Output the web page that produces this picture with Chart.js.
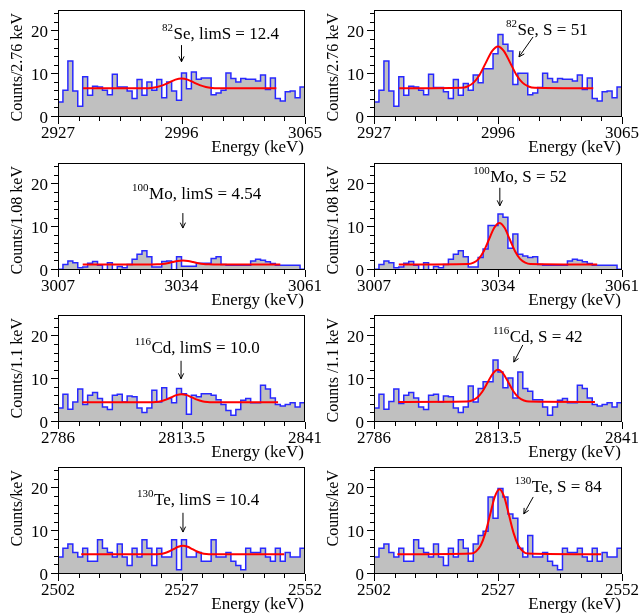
<!DOCTYPE html>
<html>
<head>
<meta charset="utf-8">
<script src="https://cdn.jsdelivr.net/npm/chart.js@4.4.1/dist/chart.umd.min.js"></script>
<style>
  body { margin: 0; background: #fff; }
  #wrap { position: relative; width: 639px; height: 615px; overflow: hidden; }
  canvas { position: absolute; }
</style>
</head>
<body>
<div id="wrap"></div>
<script>
// energy windows (keV) and bin widths
const seRange = [2927, 3065], seBin = 2.76;
const moRange = [3007, 3061], moBin = 1.08;
const cdRange = [2786, 2841], cdBin = 1.1;
const teRange = [2502, 2552], teBin = 1;

// x tick labels
const seTickLabels = ['2927', '2996', '3065'];
const moTickLabels = ['3007', '3034', '3061'];
const cdTickLabels = ['2786', '2813.5', '2841'];
const teTickLabels = ['2502', '2527', '2552'];
const yTickLabels = [0, 10, 20];

// counts per bin, left = limit fit, right = with signal
const seLimCounts = [3.5, 6.25, 13.1, 6.1, 2.5, 9.4, 5.1, 7.2, 7.0, 6.25,
  5.2, 10.0, 7.0, 7.0, 6.1, 4.3, 8.75, 5.1, 8.2, 6.25,
  8.75, 4.5, 8.2, 6.1, 3.9, 10.3, 6.6, 10.5, 8.8, 9.1,
  9.1, 5.2, 5.6, 6.25, 10.3, 9.0, 8.2, 9.0, 8.8, 8.8,
  8.4, 9.8, 6.4, 9.1, 4.3, 3.75, 5.9, 6.1, 4.5, 7.0];
const seSigCounts = [3.5, 6.25, 13.1, 6.1, 2.5, 9.4, 5.1, 7.2, 7.0, 6.25,
  5.2, 10.0, 6.9, 6.9, 5.9, 4.3, 8.75, 5.1, 7.8, 6.25,
  9.8, 8.0, 11.3, 11.3, 14.8, 19.3, 17.0, 15.4, 7.6, 10.2,
  10.2, 5.2, 5.6, 6.9, 10.2, 9.0, 8.2, 9.0, 8.8, 8.8,
  8.4, 9.8, 6.4, 9.1, 4.3, 3.75, 5.9, 6.1, 4.5, 7.0];
const moLimCounts = [0.15, 1.3, 2.1, 1.7, 0.55, 0.7, 1.6, 2.0, 1.1, 0,
  1.7, 0, 0.8, 0.55, 1.3, 2.5, 3.7, 4.5, 3.1, 0.7,
  0.7, 2.0, 2.1, 0, 3.1, 0.9, 0.9, 0.9, 1.6, 1.6,
  1.6, 2.7, 3.1, 1.3, 1.1, 1.1, 1.1, 1.1, 1.1, 2.1,
  2.5, 2.3, 1.9, 1.5, 1.1, 1.1, 1.1, 1.1, 1.1, 0.15];
const moSigCounts = [0.15, 1.3, 2.1, 1.7, 0.55, 0.7, 1.6, 2.0, 1.1, 0,
  1.7, 0, 0.8, 0.55, 1.3, 2.5, 3.7, 4.5, 3.1, 0.7,
  0.7, 2.9, 4.9, 10.4, 10.4, 13.1, 12.3, 5.1, 8.4, 3.7,
  3.3, 2.9, 3.1, 1.3, 1.1, 1.1, 1.1, 1.1, 1.1, 2.1,
  2.5, 2.3, 1.9, 1.5, 1.1, 1.1, 1.1, 1.1, 1.1, 0.15];
const cdLimCounts = [3.3, 6.5, 3.0, 4.7, 7.7, 4.1, 6.25, 6.9, 5.5, 3.5,
  2.9, 6.25, 6.5, 4.7, 6.1, 5.9, 3.3, 2.2, 3.3, 7.4,
  4.7, 8.0, 5.5, 4.5, 7.8, 6.6, 1.8, 6.25, 5.9, 6.6,
  6.6, 6.25, 5.2, 4.1, 2.7, 1.6, 2.9, 5.1, 5.5, 4.5,
  4.5, 8.6, 7.7, 5.6, 4.1, 3.75, 4.1, 4.5, 3.5, 4.5];
const cdSigCounts = [3.3, 6.5, 3.0, 4.8, 7.7, 4.3, 6.25, 6.9, 5.6, 3.5,
  2.9, 6.25, 6.5, 4.7, 6.1, 5.9, 3.3, 2.2, 3.5, 8.4,
  4.7, 7.8, 9.4, 9.4, 14.5, 11.7, 8.0, 10.3, 5.6, 11.7,
  7.8, 7.2, 5.2, 5.2, 3.5, 1.6, 3.5, 5.1, 5.5, 4.5,
  4.5, 8.6, 7.8, 5.6, 4.1, 3.75, 4.1, 4.5, 3.5, 4.5];
const teLimCounts = [4, 6, 7, 5, 4, 6, 3, 3, 8, 6,
  5, 4, 7, 4, 2, 6, 4, 8, 6, 2,
  6, 4, 4, 8, 1, 8, 4, 4, 5, 3,
  3, 8, 4, 4, 5, 3, 2, 1, 6, 5,
  5, 6, 4, 3, 6, 3, 5, 4, 4, 6];
const teSigCounts = [4, 6, 7, 5, 4, 6, 3, 3, 8, 6,
  5, 4, 7, 4, 2, 6, 4, 8, 6, 3,
  7, 9, 10, 18, 13, 20, 18, 14, 13, 6,
  4, 9, 4, 4, 5, 3, 2, 1, 6, 5,
  5, 6, 4, 3, 6, 3, 5, 4, 4, 6];

// fitted curves
const seFitE = [2941, 2975.6, 2979.0, 2982.4, 2985.8, 2989.2, 2992.6, 2996.0, 2999.4, 3002.8, 3006.2, 3009.6, 3013.0, 3016.4, 3049];
const seLimFitY = [6.7, 6.73, 6.80, 7.01, 7.45, 8.09, 8.73, 9.0, 8.73, 8.09, 7.45, 7.01, 6.80, 6.73, 6.7];
const seSigFitY = [6.7, 6.81, 7.13, 8.03, 9.88, 12.64, 15.35, 16.5, 15.35, 12.64, 9.88, 8.03, 7.13, 6.81, 6.7];
const moFitE = [3012.4, 3027.55, 3028.68, 3029.8, 3030.93, 3032.05, 3033.18, 3034.3, 3035.43, 3036.55, 3037.68, 3038.8, 3039.93, 3041.05, 3055.6];
const moLimFitY = [1.3, 1.31, 1.34, 1.42, 1.59, 1.85, 2.09, 2.2, 2.09, 1.85, 1.59, 1.42, 1.34, 1.31, 1.3];
const moSigFitY = [1.3, 1.41, 1.73, 2.61, 4.45, 7.18, 9.86, 11.0, 9.86, 7.18, 4.45, 2.61, 1.73, 1.41, 1.3];
const cdFitE = [2791.4, 2806.6, 2807.75, 2808.9, 2810.05, 2811.2, 2812.35, 2813.5, 2814.65, 2815.8, 2816.95, 2818.1, 2819.25, 2820.4, 2835.0];
const cdLimFitY = [4.6, 4.62, 4.68, 4.86, 5.22, 5.75, 6.28, 6.5, 6.28, 5.75, 5.22, 4.86, 4.68, 4.62, 4.6];
const cdSigFitY = [4.7, 4.78, 5.03, 5.71, 7.14, 9.25, 11.32, 12.2, 11.32, 9.25, 7.14, 5.71, 5.03, 4.78, 4.7];
const teFitE = [2506.7, 2521.6, 2522.55, 2523.5, 2524.45, 2525.4, 2526.35, 2527.3, 2528.25, 2529.2, 2530.15, 2531.1, 2532.05, 2533.0, 2547.8];
const teLimFitY = [4.6, 4.62, 4.69, 4.87, 5.25, 5.81, 6.37, 6.6, 6.37, 5.81, 5.25, 4.87, 4.69, 4.62, 4.6];
const teSigFitY = [4.6, 4.77, 5.27, 6.66, 9.54, 13.82, 18.01, 19.8, 18.01, 13.82, 9.54, 6.66, 5.27, 4.77, 4.6];

// panel grid (px)
const colLeft = [0, 318], colWidth = [330, 321];
const plotLeft = [58, 374], plotRight = [305, 622];
const plotTop = [10, 163, 315, 467], plotH = 107;

const panels = [
  { row: 0, col: 0, range: seRange, bin: seBin, counts: seLimCounts, fitE: seFitE, fitY: seLimFitY, ticks: seTickLabels,
    yTitle: 'Counts/2.76 keV', sup: '82', label: 'Se, limS = 12.4', at: [2985.1, 18.2], arrow: [2996, 16.8, 2996, 12.9] },
  { row: 0, col: 1, range: seRange, bin: seBin, counts: seSigCounts, fitE: seFitE, fitY: seSigFitY, ticks: seTickLabels,
    yTitle: 'Counts/2.76 keV', sup: '82', label: 'Se, S = 51', at: [3000.5, 19.2], arrow: [3015.5, 18.7, 3007.7, 14.05] },
  { row: 1, col: 0, range: moRange, bin: moBin, counts: moLimCounts, fitE: moFitE, fitY: moLimFitY, ticks: moTickLabels,
    yTitle: 'Counts/1.08 keV', sup: '100', label: 'Mo, limS = 4.54', at: [3023.2, 16.6], arrow: [3034.3, 13.3, 3034.3, 9.8] },
  { row: 1, col: 1, range: moRange, bin: moBin, counts: moSigCounts, fitE: moFitE, fitY: moSigFitY, ticks: moTickLabels,
    yTitle: 'Counts/1.08 keV', sup: '100', label: 'Mo, S = 52', at: [3028.6, 20.6], arrow: [3034.4, 19.2, 3034.4, 15.0] },
  { row: 2, col: 0, range: cdRange, bin: cdBin, counts: cdLimCounts, fitE: cdFitE, fitY: cdLimFitY, ticks: cdTickLabels,
    yTitle: 'Counts/1.1 keV', sup: '116', label: 'Cd, limS = 10.0', at: [2803.1, 16.1], arrow: [2813.4, 14.3, 2813.4, 10.1] },
  { row: 2, col: 1, range: cdRange, bin: cdBin, counts: cdSigCounts, fitE: cdFitE, fitY: cdSigFitY, ticks: cdTickLabels,
    yTitle: 'Counts /1.1 keV', sup: '116', label: 'Cd, S = 42', at: [2812.4, 18.7], arrow: [2819.0, 18.0, 2817.0, 14.0] },
  { row: 3, col: 0, range: teRange, bin: teBin, counts: teLimCounts, fitE: teFitE, fitY: teLimFitY, ticks: teTickLabels,
    yTitle: 'Counts/keV', sup: '130', label: 'Te, limS = 10.4', at: [2518.0, 16.1], arrow: [2527.3, 14.3, 2527.3, 9.8] },
  { row: 3, col: 1, range: teRange, bin: teBin, counts: teSigCounts, fitE: teFitE, fitY: teSigFitY, ticks: teTickLabels,
    yTitle: 'Counts/keV', sup: '130', label: 'Te, S = 84', at: [2530.4, 19.2], arrow: [2534.1, 18.0, 2532.2, 14.05] }
];

const serif = '"Liberation Serif", "Times New Roman", serif';

// frame, ROOT style ticks, titles and the isotope labels
const panelDeco = {
  id: 'panelDeco',
  afterDraw(chart, args, o) {
    const { ctx, chartArea: a, scales: { x, y } } = chart;
    ctx.save();
    ctx.strokeStyle = '#000';
    ctx.fillStyle = '#000';
    ctx.lineWidth = 1;
    ctx.strokeRect(a.left + 0.5, a.top + 0.5, a.right - a.left - 1, a.bottom - a.top - 1);

    ctx.beginPath();
    const step = (o.range[1] - o.range[0]) / 12;
    for (let k = 0; k <= 12; k++) {
      const px = Math.round(x.getPixelForValue(o.range[0] + k * step)) + 0.5;
      const len = k % 6 === 0 ? 7 : 4;
      ctx.moveTo(px, a.bottom);
      ctx.lineTo(px, a.bottom + len);
    }
    for (let v = 0; v <= 24; v += 2) {
      const py = Math.round(y.getPixelForValue(v)) - 0.5;
      const len = v % 10 === 0 ? 7 : 4;
      ctx.moveTo(a.left - len, py);
      ctx.lineTo(a.left, py);
    }
    ctx.stroke();

    ctx.font = '17px ' + serif;
    ctx.textBaseline = 'alphabetic';
    ctx.textAlign = 'center';
    o.ticks.forEach(t => ctx.fillText(t, x.getPixelForValue(parseFloat(t)), a.bottom + 20.5));
    ctx.textAlign = 'right';
    yTickLabels.forEach(v => ctx.fillText(String(v), a.left - 10, y.getPixelForValue(v) + 6));
    ctx.fillText('Energy (keV)', a.right - 1, a.bottom + 35);

    ctx.save();
    ctx.font = '16px ' + serif;
    ctx.translate(a.left - 40, a.top + 3);
    ctx.rotate(-Math.PI / 2);
    ctx.textAlign = 'right';
    ctx.textBaseline = 'middle';
    ctx.fillText(o.yTitle, 0, 0);
    ctx.restore();

    const sx = x.getPixelForValue(o.at[0]), sy = y.getPixelForValue(o.at[1]);
    ctx.textAlign = 'left';
    ctx.font = '11px ' + serif;
    ctx.fillText(o.sup, sx, sy - 8);
    const w = ctx.measureText(o.sup).width;
    ctx.font = '17px ' + serif;
    ctx.fillText(o.label, sx + w + 0.5, sy);

    const x1 = x.getPixelForValue(o.arrow[0]), y1 = y.getPixelForValue(o.arrow[1]);
    const x2 = x.getPixelForValue(o.arrow[2]), y2 = y.getPixelForValue(o.arrow[3]);
    const ang = Math.atan2(y2 - y1, x2 - x1);
    ctx.beginPath();
    ctx.moveTo(x1, y1);
    ctx.lineTo(x2, y2);
    [0.45, -0.45].forEach(d => {
      ctx.moveTo(x2, y2);
      ctx.lineTo(x2 - 6 * Math.cos(ang + d), y2 - 6 * Math.sin(ang + d));
    });
    ctx.stroke();
    ctx.restore();
  }
};

const wrap = document.getElementById('wrap');

panels.forEach(p => {
  const canvas = document.createElement('canvas');
  const cw = colWidth[p.col], ch = 158;
  canvas.width = cw;
  canvas.height = ch;
  canvas.style.left = colLeft[p.col] + 'px';
  canvas.style.top = (plotTop[p.row] - 10) + 'px';
  canvas.style.width = cw + 'px';
  canvas.style.height = ch + 'px';
  wrap.appendChild(canvas);

  // step histogram: one point per left bin edge plus the closing edge
  const hist = p.counts.map((c, i) => ({ x: p.range[0] + i * p.bin, y: c }));
  hist.push({ x: p.range[1], y: p.counts[p.counts.length - 1] });
  const fit = p.fitE.map((e, i) => ({ x: e, y: p.fitY[i] }));

  new Chart(canvas, {
    type: 'line',
    data: {
      datasets: [
        {
          data: fit,
          borderColor: 'rgb(255,0,0)',
          borderWidth: 2,
          fill: false,
          cubicInterpolationMode: 'monotone',
          pointRadius: 0,
          order: 1
        },
        {
          data: hist,
          stepped: 'before',
          borderColor: 'rgb(40,40,255)',
          borderWidth: 1.5,
          backgroundColor: 'rgb(192,192,192)',
          fill: 'origin',
          pointRadius: 0,
          order: 2
        }
      ]
    },
    options: {
      responsive: false,
      animation: false,
      devicePixelRatio: 1,
      layout: {
        padding: {
          left: plotLeft[p.col] - colLeft[p.col],
          right: colLeft[p.col] + cw - plotRight[p.col],
          top: 10,
          bottom: ch - 10 - plotH
        }
      },
      scales: {
        x: { type: 'linear', min: p.range[0], max: p.range[1], display: false },
        y: { min: 0, max: 25, display: false }
      },
      plugins: {
        legend: { display: false },
        tooltip: { enabled: false },
        panelDeco: p
      }
    },
    plugins: [panelDeco]
  });
});
</script>
</body>
</html>
